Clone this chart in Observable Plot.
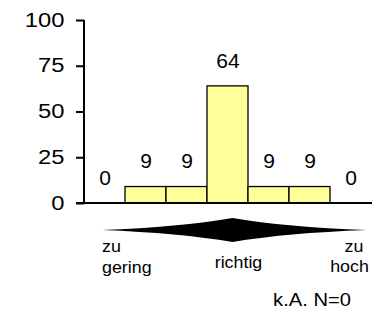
<!DOCTYPE html>
<html><head><meta charset="utf-8">
<script src="https://cdn.jsdelivr.net/npm/d3@7"></script>
<script src="https://cdn.jsdelivr.net/npm/@observablehq/plot@0.6"></script>
<style>body{margin:0;background:#fff;} svg{display:block;}</style>
</head><body><div id="chart"></div>
<script>
const categories = ["1","2","3","4","5","6","7"];
const values = [0, 9, 9, 64, 9, 9, 0];
const yTicks = [0, 25, 50, 75, 100];
const leftLabel = ["zu", "gering"];
const midLabel = "richtig";
const rightLabel = ["zu", "hoch"];
const noAnswer = "k.A. N=0";

const data = categories.map((c, i) => ({cat: c, value: values[i]}));
const font = "'Liberation Sans', Arial, Helvetica, sans-serif";

function stretch(el, s) {
  const x = +el.getAttribute("x") || 0;
  const tr = el.getAttribute("transform") || "";
  el.setAttribute("transform", `${tr} translate(${x},0) scale(${s},1) translate(${-x},0)`);
}

function decorations(index, scales, vals, dim) {
  const g = d3.create("svg:g");
  const x = scales.x, y = scales.y;
  const y0 = y(0);
  const x0 = dim.marginLeft, x1 = dim.width - dim.marginRight;
  // axis lines
  g.append("line").attr("x1", x0).attr("x2", x0).attr("y1", y(100)).attr("y2", y0)
    .attr("stroke", "black").attr("stroke-width", 2);
  g.append("line").attr("x1", x0 - 8).attr("x2", x1 + 1).attr("y1", y0).attr("y2", y0)
    .attr("stroke", "black").attr("stroke-width", 2);
  // arrow shape
  const cx = x(categories[3]) + x.bandwidth() / 2 + 5;
  const L = x0 + 18, R = x1 - 4, yc = y0 + 27, h = 12;
  const cl = cx - 53, cr = cx + 53;
  g.append("path")
    .attr("d", `M${L},${yc} Q${cl},${yc - 3} ${cx},${yc - h} Q${cr},${yc - 3} ${R},${yc} Q${cr},${yc + 3} ${cx},${yc + h} Q${cl},${yc + 3} ${L},${yc} Z`)
    .attr("fill", "black");
  const t = (s, px, py, anchor, size, k) => {
    const el = g.append("text").text(s)
      .attr("x", px).attr("y", py).attr("text-anchor", anchor)
      .attr("font-size", size).attr("font-family", font).attr("fill", "black").node();
    if (k) stretch(el, k);
  };
  t(leftLabel[0], L, y0 + 49, "start", 17, 1.05);
  t(leftLabel[1], L, y0 + 70, "start", 17, 1.05);
  t(midLabel, cx + 6, y0 + 65, "middle", 17, 1.05);
  t(rightLabel[0], x1 - 17, y0 + 49, "middle", 17, 1.05);
  t(rightLabel[1], x1 - 21.5, y0 + 69, "middle", 17, 1.05);
  t(noAnswer, x1 - 20, y0 + 103, "end", 18, 1.12);
  return g.node();
}

const plot = Plot.plot({
  width: 387,
  height: 316,
  marginLeft: 84,
  marginRight: 16,
  marginTop: 20,
  marginBottom: 113,
  style: {fontFamily: font, fontSize: "20px", color: "black", background: "white"},
  x: {domain: categories, padding: 0, axis: null},
  y: {domain: [0, 100], axis: null},
  marks: [
    Plot.barY(data, {x: "cat", y: "value", fill: "#ffff99", stroke: "black", strokeWidth: 1.3, inset: 0}),
    Plot.text(data, {x: "cat", y: "value", text: d => String(d.value), dy: -25.5, fontSize: 21, fill: "black", ariaLabel: "value label"}),
    Plot.axisY({ticks: yTicks, tickSize: 8, tickPadding: 12, label: null, fontSize: 19.5, strokeWidth: 2}),
    decorations
  ]
});
plot.querySelectorAll("g[aria-label='value label'] text").forEach(el => stretch(el, 1.22));
plot.querySelectorAll("g[aria-label='y-axis tick label'] text").forEach(el => stretch(el, 1.22));
document.getElementById("chart").appendChild(plot);
</script></body></html>
